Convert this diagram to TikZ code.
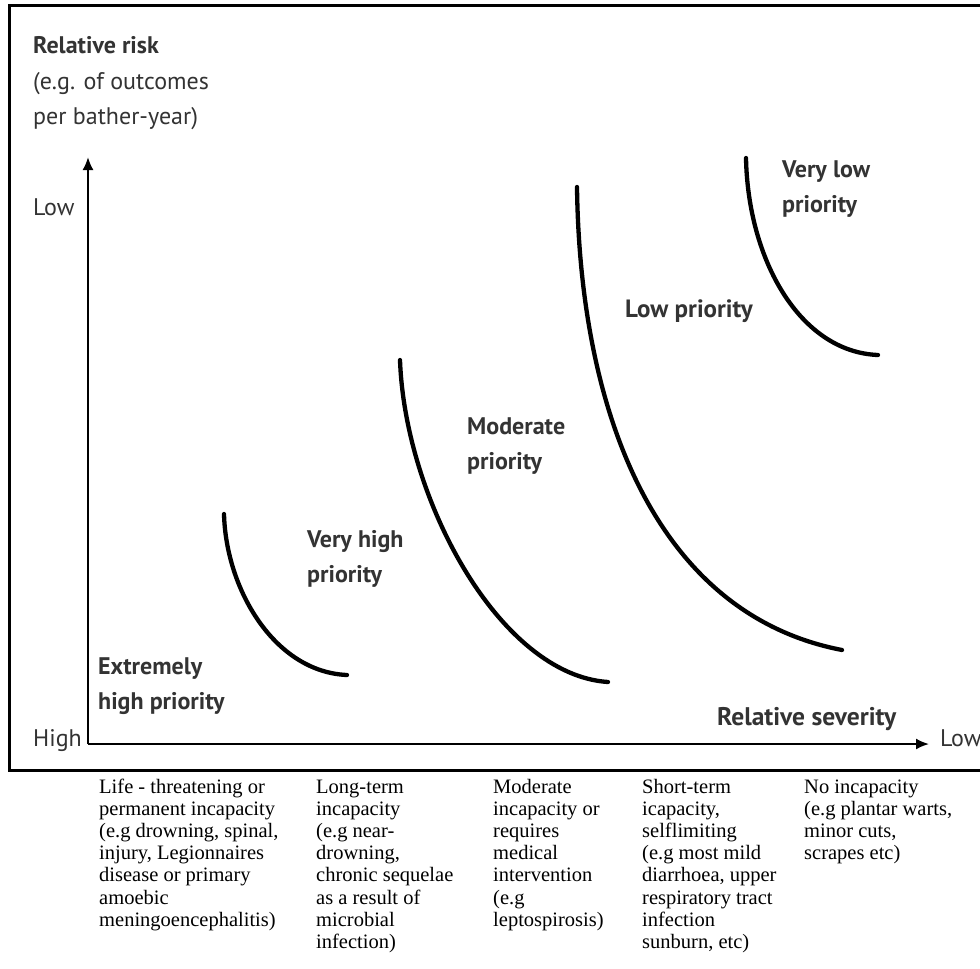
\documentclass[tikz,border=0pt]{standalone}
\usepackage{fontspec}
\setmainfont{Liberation Serif}
\newfontfamily\chartfont{PT Sans}
\usetikzlibrary{arrows.meta}
\begin{document}
\begin{tikzpicture}[x=1pt,y=-1pt,
  chart/.style={font=\chartfont\fontsize{24}{35}\selectfont, text=black!80, inner sep=0pt, anchor=base west, align=left},
  chartb/.style={chart, font=\chartfont\bfseries\fontsize{24}{35}\selectfont},
  note/.style={font=\fontsize{20.5}{22.2}\selectfont, inner sep=0pt, anchor=base west, align=left},
  curve/.style={line width=4.3pt, line cap=round},
  axis/.style={line width=2pt, -{Latex[length=13pt,width=11pt]}}]
\useasboundingbox (0,0) rectangle (980,969);
\fill[white] (0,0) rectangle (980,969);
% frame
\draw[line width=3pt] (982,5) -- (9,5) -- (9,770) -- (982,770);
% axes
\coordinate (O) at (88,744);
\coordinate (ytip) at (88,157);
\coordinate (xtip) at (929,744);
\draw[axis] (O) -- (ytip);
\draw[axis] (O) -- (xtip);
% axis labels (base = baseline of the last line)
\node[chartb] (title) at (33,53) {Relative risk};
\node[chart] (sub) at (33,124) {(e.g. of outcomes\\per bather-year)};
\node[chart] (ylow) at (33,215) {Low};
\node[chart] (yhigh) at (33,746) {High};
\node[chart] (xlow) at (940,746) {Low};
\node[chartb, font=\chartfont\bfseries\fontsize{25.5}{35}\selectfont] (xlab) at (717,725) {Relative severity};
% priority labels
\node[chartb] (p1) at (98,709) {Extremely\\high priority};
\node[chartb] (p2) at (307,582) {Very high\\priority};
\node[chartb] (p3) at (467,469) {Moderate\\priority};
\node[chartb, font=\chartfont\bfseries\fontsize{25}{35}\selectfont] (p4) at (625,317) {Low priority};
\node[chartb] (p5) at (782,212) {Very low\\priority};
% curves
\draw[curve] (224,514) .. controls (226,590) and (275,672) .. (347,675);
\draw[curve] (400,360) .. controls (405,500) and (500,675) .. (608,682);
\draw[curve] (577,187) .. controls (580,420) and (660,615) .. (842,650);
\draw[curve] (746,158) .. controls (748,260) and (800,352) .. (878,355);
% severity descriptions (first baseline 793, pitch 22.2)
\node[note] (c1) at (99,926.2) {Life - threatening or\\permanent incapacity\\(e.g drowning, spinal,\\injury, Legionnaires\\disease or primary\\amoebic\\meningoencephalitis)};
\node[note] (c2) at (316,948.4) {Long-term\\incapacity\\(e.g near-\\drowning,\\chronic sequelae\\as a result of\\microbial\\infection)};
\node[note] (c3) at (493,926.2) {Moderate\\incapacity or\\requires\\medical\\intervention\\(e.g\\leptospirosis)};
\node[note] (c4) at (642,948.4) {Short-term\\icapacity,\\selflimiting\\(e.g most mild\\diarrhoea, upper\\respiratory tract\\infection\\sunburn, etc)};
\node[note] (c5) at (804,859.6) {No incapacity\\(e.g plantar warts,\\minor cuts,\\scrapes etc)};
\end{tikzpicture}
\end{document}
